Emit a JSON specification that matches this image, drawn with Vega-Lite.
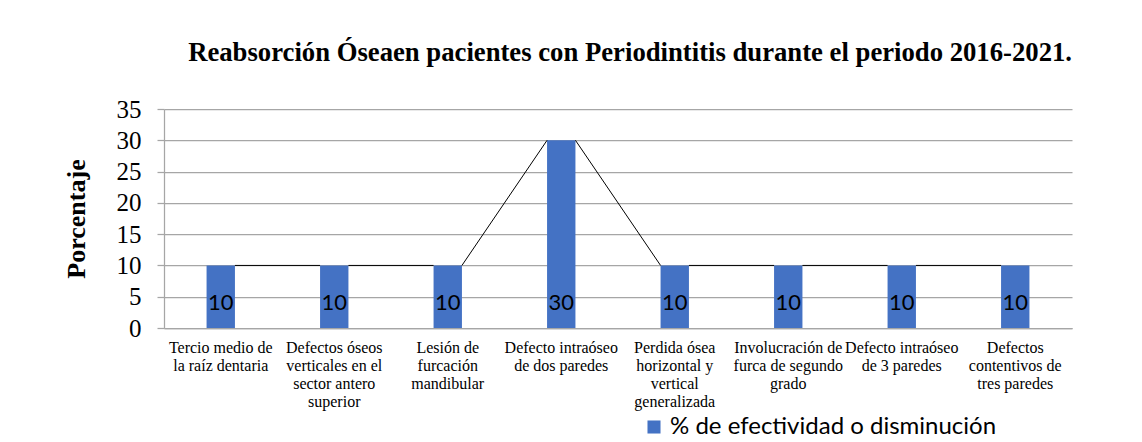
{
  "$schema": "https://vega.github.io/schema/vega-lite/v6.json",
  "autosize": {"type": "none"},
  "padding": {"left": 164, "top": 109, "right": 70, "bottom": 114},
  "width": 908,
  "height": 219,
  "background": "white",
  "title": {
    "text": "Reabsorción Óseaen pacientes con Periodintitis durante  el periodo 2016-2021.",
    "anchor": "end",
    "font": "Liberation Serif",
    "fontSize": 26.7,
    "fontWeight": "bold",
    "color": "black",
    "offset": 9,
    "baseline": "alphabetic"
  },
  "data": {
    "values": [
      {"categoria": "Tercio medio de la raíz dentaria", "porcentaje": 10, "serie": "% de efectividad o disminución"},
      {"categoria": "Defectos óseos verticales en el sector antero superior", "porcentaje": 10, "serie": "% de efectividad o disminución"},
      {"categoria": "Lesión de furcación mandibular", "porcentaje": 10, "serie": "% de efectividad o disminución"},
      {"categoria": "Defecto intraóseo de dos paredes", "porcentaje": 30, "serie": "% de efectividad o disminución"},
      {"categoria": "Perdida ósea horizontal y vertical generalizada", "porcentaje": 10, "serie": "% de efectividad o disminución"},
      {"categoria": "Involucración de furca de segundo grado", "porcentaje": 10, "serie": "% de efectividad o disminución"},
      {"categoria": "Defecto intraóseo de 3 paredes", "porcentaje": 10, "serie": "% de efectividad o disminución"},
      {"categoria": "Defectos contentivos de tres paredes", "porcentaje": 10, "serie": "% de efectividad o disminución"}
    ]
  },
  "encoding": {
    "x": {
      "field": "categoria",
      "type": "nominal",
      "sort": null,
      "scale": {"paddingInner": 0.75, "paddingOuter": 0.375},
      "axis": {
        "title": null,
        "labelAngle": 0,
        "labelFont": "Liberation Serif",
        "labelFontSize": 16,
        "labelColor": "black",
        "labelLineHeight": 18,
        "labelPadding": 11,
        "labelBaseline": "top",
        "labelLimit": 200,
        "labelOverlap": false,
        "ticks": false,
        "domainColor": "#A6A6A6",
        "domainWidth": 1.25,
        "labelExpr": "{'Tercio medio de la raíz dentaria': ['Tercio medio de', 'la raíz dentaria'], 'Defectos óseos verticales en el sector antero superior': ['Defectos óseos', 'verticales en el', 'sector antero', 'superior'], 'Lesión de furcación mandibular': ['Lesión de', 'furcación', 'mandibular'], 'Defecto intraóseo de dos paredes': ['Defecto intraóseo', 'de dos paredes'], 'Perdida ósea horizontal y vertical generalizada': ['Perdida ósea', 'horizontal y', 'vertical', 'generalizada'], 'Involucración de furca de segundo grado': ['Involucración de', 'furca de segundo', 'grado'], 'Defecto intraóseo de 3 paredes': ['Defecto intraóseo', 'de 3 paredes'], 'Defectos contentivos de tres paredes': ['Defectos', 'contentivos de', 'tres paredes']}[datum.label]"
      }
    },
    "y": {
      "field": "porcentaje",
      "type": "quantitative",
      "scale": {"domain": [0, 35], "nice": false},
      "axis": {
        "title": "Porcentaje",
        "titleFont": "Liberation Serif",
        "titleFontSize": 26,
        "titleFontWeight": "bold",
        "titleColor": "black",
        "titlePadding": 27,
        "values": [0, 5, 10, 15, 20, 25, 30, 35],
        "labelOverlap": false,
        "labelFont": "Liberation Serif",
        "labelFontSize": 25,
        "labelColor": "black",
        "labelPadding": 16,
        "tickSize": 7,
        "tickColor": "#A6A6A6",
        "tickWidth": 1.25,
        "grid": true,
        "gridColor": "#A6A6A6",
        "gridWidth": 1.25,
        "domainColor": "#A6A6A6",
        "domainWidth": 1.25
      }
    }
  },
  "layer": [
    {
      "mark": {"type": "bar", "color": "#4472C4"},
      "encoding": {
        "color": {
          "field": "serie",
          "type": "nominal",
          "scale": {"range": ["#4472C4"]},
          "legend": {
            "title": null,
            "orient": "none",
            "legendX": 478,
            "legendY": 306,
            "symbolType": "square",
            "symbolSize": 170,
            "symbolStrokeWidth": 0,
            "labelFont": "Lato",
            "labelFontSize": 24,
            "labelColor": "black",
            "labelOffset": 4,
            "labelLimit": 600,
            "padding": 0
          }
        }
      }
    },
    {
      "transform": [
        {"window": [{"op": "lead", "field": "categoria", "as": "siguiente"}, {"op": "lead", "field": "porcentaje", "as": "valor_siguiente"}]},
        {"filter": "datum.siguiente != null"}
      ],
      "mark": {"type": "rule", "color": "black", "strokeWidth": 1},
      "encoding": {
        "x": {"field": "categoria", "type": "nominal", "sort": null, "bandPosition": 1},
        "x2": {"field": "siguiente", "bandPosition": 0},
        "y2": {"field": "valor_siguiente"}
      }
    },
    {
      "mark": {"type": "text", "font": "Lato", "fontSize": 22, "color": "black", "baseline": "alphabetic", "dy": -18},
      "encoding": {
        "y": {
          "datum": 0,
          "type": "quantitative",
          "axis": {
            "title": "Porcentaje",
            "titleFont": "Liberation Serif",
            "titleFontSize": 26,
            "titleFontWeight": "bold",
            "titleColor": "black",
            "titlePadding": 27,
            "values": [0, 5, 10, 15, 20, 25, 30, 35],
            "labelOverlap": false,
            "labelFont": "Liberation Serif",
            "labelFontSize": 25,
            "labelColor": "black",
            "labelPadding": 16,
            "tickSize": 7,
            "tickColor": "#A6A6A6",
            "tickWidth": 1.25,
            "grid": true,
            "gridColor": "#A6A6A6",
            "gridWidth": 1.25,
            "domainColor": "#A6A6A6",
            "domainWidth": 1.25
          }
        },
        "text": {"field": "porcentaje", "type": "quantitative"}
      }
    }
  ],
  "config": {
    "view": {"stroke": null},
    "axis": {"gridCap": "butt"}
  }
}
